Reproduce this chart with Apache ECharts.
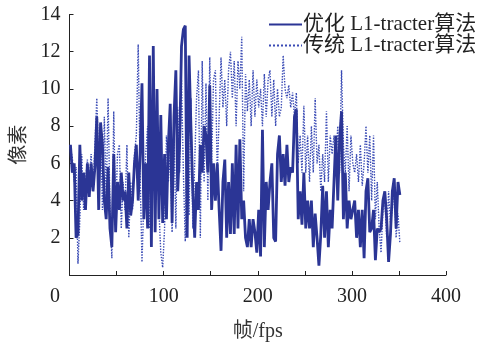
<!DOCTYPE html>
<html>
<head>
<meta charset="utf-8">
<script src="https://cdn.jsdelivr.net/npm/echarts@6/dist/echarts.min.js"></script>
<style>
  html, body { margin: 0; padding: 0; background: #fff; }
  #chart { width: 486px; height: 342px; }
</style>
</head>
<body>
<div id="chart"></div>
<script>
// values, one every 2 frames starting at frame 1
const optimized = [
  7, 5.5, 6, 2, 2.2,   7, 4, 5.5, 3.5, 6,   4.2, 6, 4.5, 5.8, 8.5,   3.5, 8.2, 7, 4, 3,
  5.8, 2.5, 1.5, 6.5, 2.3,   5, 3.5, 5.5, 4, 4.5,   2.5, 5.5, 3.2, 4, 6,   7, 4, 6.5, 10.3, 3,
  6, 2.5, 11.8, 1.5, 12.3,   2.3, 10, 3, 8.6, 2.8,   6.5, 3, 7, 9.2, 2.8,   8.5, 11, 4.5, 7, 12.3,
  13.2, 13.4, 2, 11.8, 8,   4.5, 2, 5, 3.5, 7,   5.5, 8, 7.5, 5.5, 10.2,   3.5, 6, 4, 6, 3.5,
  1.3, 5, 6.2, 2, 5,   2.2, 6, 2.2, 7, 2.5,   7.3, 3, 4, 2, 1.5,   3, 1.5, 3, 2.3, 1.2,
  3.5, 1, 7.8, 1.5, 5,   3.5, 5, 6, 2, 1.8,   6.5, 7.5, 5, 6.5, 4.8,   7, 5, 5.8, 5.5, 8.5,
  8.9, 3, 4.5, 2.7, 5.5,   2.5, 4, 2.5, 4, 1.5,   3.3, 2, 0.5, 2.2, 4.8,   2, 4.5, 1.5, 3.5, 2.5,
  5, 7.5, 4, 7.3, 8.8,   3, 5.5, 2.5, 4, 3,   3, 4, 2, 3.5, 1.5,   3.5, 0.9, 4.5, 5.2, 2.3,
  2.5, 3.5, 0.8, 2.5, 2.3,   2.5, 4, 4.5, 3, 0.7,   2.2, 4.5, 5.2, 2.5, 5,   4.3
];
const traditional = [
  6.8, 6.3, 5, 5.8, 0.6,   3, 6.5, 3.5, 5, 6.2,   5, 6.5, 4.5, 7, 9.5,   6, 8, 3.5, 8.5, 4,
  9.5, 3.5, 0.9, 8.8, 3,   6.5, 7, 2.5, 5, 3.5,   7, 2, 5, 3.5, 6.5,   7.5, 12.4, 5.5, 0.7, 4,
  6.5, 8, 2.5, 4.5, 8,   6, 9, 3.5, 1.2, 0.4,   2.5, 7.5, 5, 6.5, 2.3,   8, 2.5, 9, 5.5, 10.5,
  5.5, 1.8, 9.5, 3.2, 9.5,   2.5, 6, 9.5, 11, 2,   11.5, 5, 10.3, 4, 11.7,   6, 10.5, 11, 5.5, 8.5,
  11.7, 9, 10.5, 8, 11,   12, 9.5, 11.5, 8, 11.5,   10, 12.8, 4.5, 10.8, 8.8,   10.5, 8, 11, 8.5, 10.5,
  9, 10, 8, 10.8, 8.5,   10.5, 11, 8.5, 10.5, 8,   10, 8.5, 9, 11.8, 10,   9.5, 10.2, 9, 9.8, 8.5,
  9.8, 6, 7.5, 5.5, 9.1,   5.5, 7.5, 5, 8, 5.5,   9.5, 6, 7, 4.5, 6.5,   5, 8.8, 5, 7.5, 6.5,
  7.5, 6, 8, 5.5, 11,   7, 5.5, 8, 4.5, 7.5,   6, 5.5, 6.5, 5, 7,   4.8, 6, 8, 5.5, 7.5,
  4, 7.5, 3, 5, 2.5,   1.2, 3.5, 4, 2, 4.5,   2.8, 3.5, 4.8, 2, 3.3,   1.7
];
const names = ['优化 L1-tracter算法', '传统 L1-tracter算法'];

const font = "'Liberation Serif', 'Noto Sans CJK SC', serif";
const toPairs = arr => arr.map((v, i) => [1 + 2 * i, v]);

const chart = echarts.init(document.getElementById('chart'));
chart.setOption({
  animation: false,
  backgroundColor: '#fff',
  grid: { left: 69.5, right: 40, top: 14.5, bottom: 67, outerBoundsMode: 'none' },
  legend: {
    orient: 'vertical',
    left: 263,
    top: 9,
    padding: 5,
    itemGap: 0,
    itemWidth: 33,
    itemHeight: 12,
    itemStyle: { color: 'transparent', borderColor: 'transparent', borderWidth: 0 },
    textStyle: { fontFamily: font, fontSize: 21, color: '#222', lineHeight: 17, padding: [0, 0, 0, -4] },
    data: names
  },
  xAxis: {
    type: 'value',
    min: 0,
    max: 400,
    interval: 50,
    name: '帧/fps',
    nameLocation: 'middle',
    nameGap: 47,
    nameTextStyle: { fontFamily: font, fontSize: 20, color: '#333' },
    splitLine: { show: false },
    axisLine: { lineStyle: { color: '#222', width: 1 } },
    axisTick: { inside: true, length: 4, lineStyle: { color: '#222' } },
    axisLabel: {
      fontFamily: font, fontSize: 20, color: '#222', margin: 12,
      formatter: v => v === 0 ? '{z|0}' : (v % 100 === 0 ? String(v) : ''),
      rich: { z: { fontFamily: font, fontSize: 20, color: '#222', padding: [0, 29, 0, 0] } }
    }
  },
  yAxis: {
    type: 'value',
    min: 0,
    max: 14,
    interval: 2,
    name: '像素',
    nameLocation: 'middle',
    nameRotate: 90,
    nameGap: 39,
    nameTextStyle: { fontFamily: font, fontSize: 20, color: '#333' },
    splitLine: { show: false },
    axisLine: { show: true, lineStyle: { color: '#222', width: 1 } },
    axisTick: { show: true, inside: true, length: 4, lineStyle: { color: '#222' } },
    axisLabel: {
      fontFamily: font, fontSize: 20, color: '#222', margin: 9,
      formatter: v => v === 0 ? '' : String(v)
    }
  },
  series: [
    {
      name: names[0],
      type: 'line',
      data: toPairs(optimized),
      symbol: 'none',
      z: 3,
      lineStyle: { color: '#2b3595', width: 2.8 },
      itemStyle: { color: '#2b3595' }
    },
    {
      name: names[1],
      type: 'line',
      data: toPairs(traditional),
      symbol: 'none',
      z: 2,
      lineStyle: { color: '#3a4bb5', width: 1.4, type: 'dotted' },
      itemStyle: { color: '#3a4bb5' }
    }
  ]
});
</script>
</body>
</html>
